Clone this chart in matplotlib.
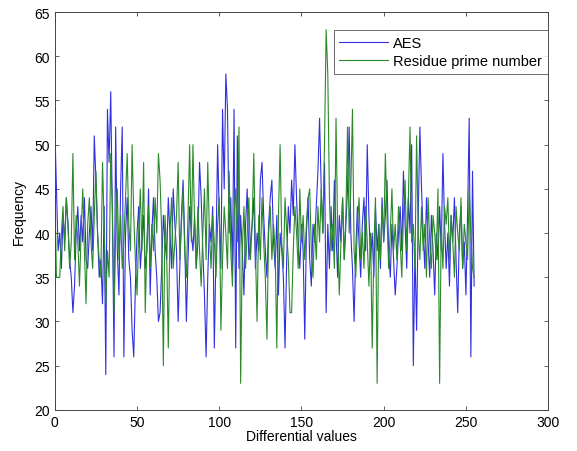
import numpy as np
import matplotlib.pyplot as plt

plt.rcParams['font.family'] = ['Liberation Sans', 'DejaVu Sans']

# frequency of each differential value
aes = [
    52, 45, 38, 40, 36, 42, 39, 44, 41, 37, 35, 31, 34, 40, 43, 38,
    42, 39, 44, 37, 36, 40, 43, 38, 51, 46, 40, 35, 37, 32, 43, 24,
    54, 48, 56, 42, 26, 52, 38, 33, 45, 52, 26, 40, 44, 37, 35, 29,
    26, 34, 40, 43, 36, 39, 42, 36, 38, 45, 33, 40, 44, 38, 35, 30,
    31, 36, 42, 39, 37, 44, 40, 36, 45, 41, 38, 30, 36, 42, 46, 39,
    30, 37, 43, 40, 38, 42, 36, 39, 48, 44, 38, 33, 26, 35, 41, 39,
    43, 27, 38, 50, 42, 36, 54, 45, 58, 54, 40, 44, 36, 54, 27, 51,
    36, 42, 38, 33, 41, 45, 37, 39, 41, 44, 36, 40, 38, 46, 48, 42,
    38, 35, 41, 44, 46, 39, 36, 42, 33, 40, 38, 35, 27, 37, 43, 40,
    46, 42, 50, 44, 39, 36, 41, 38, 28, 40, 44, 37, 34, 41, 39, 43,
    47, 53, 45, 40, 48, 31, 41, 36, 43, 38, 46, 40, 35, 42, 39, 44,
    37, 41, 45, 52, 40, 36, 30, 38, 43, 39, 35, 41, 44, 38, 50, 42,
    37, 40, 35, 43, 38, 41, 36, 44, 39, 42, 46, 38, 35, 41, 37, 33,
    36, 40, 43, 38, 47, 41, 36, 44, 40, 50, 25, 38, 29, 42, 52, 45,
    40, 36, 44, 39, 35, 42, 38, 33, 40, 37, 43, 38, 49, 41, 36, 40,
    34, 42, 39, 44, 37, 31, 40, 43, 36, 39, 33, 42, 53, 26, 47, 34,
]

residue_prime = [
    45, 35, 35, 35, 40, 43, 38, 44, 41, 36, 39, 49, 37, 42, 39, 34,
    40, 45, 38, 32, 41, 44, 39, 36, 42, 47, 40, 37, 35, 48, 41, 32,
    38, 35, 49, 43, 31, 40, 45, 37, 42, 36, 39, 44, 49, 41, 38, 50,
    42, 37, 33, 40, 45, 38, 48, 31, 39, 43, 36, 41, 38, 44, 40, 49,
    46, 40, 25, 42, 38, 27, 40, 44, 36, 39, 42, 48, 37, 41, 45, 38,
    35, 42, 50, 39, 50, 41, 36, 43, 38, 34, 40, 45, 37, 48, 40, 36,
    42, 39, 35, 41, 44, 29, 37, 43, 40, 36, 47, 38, 34, 42, 45, 39,
    52, 23, 38, 43, 36, 40, 44, 37, 41, 49, 38, 30, 42, 37, 44, 39,
    35, 28, 40, 43, 37, 41, 38, 27, 42, 50, 39, 36, 44, 40, 37, 31,
    31, 38, 43, 40, 36, 45, 39, 42, 37, 41, 44, 45, 38, 35, 41, 37,
    43, 39, 45, 40, 50, 63, 58, 44, 38, 41, 36, 53, 40, 33, 39, 44,
    37, 42, 52, 40, 45, 54, 38, 35, 41, 44, 37, 40, 36, 43, 39, 34,
    40, 27, 38, 44, 23, 41, 37, 43, 39, 49, 42, 36, 40, 45, 38, 41,
    37, 43, 39, 35, 42, 46, 38, 44, 52, 39, 41, 36, 51, 40, 37, 43,
    38, 41, 35, 44, 39, 36, 42, 40, 37, 45, 23, 41, 36, 43, 41, 44,
    37, 42, 39, 35, 43, 40, 38, 44, 36, 41, 39, 37, 45, 40, 36, 35,
]

x = np.arange(len(aes))

fig = plt.figure(figsize=(5.77, 4.52), dpi=100)
ax = fig.add_axes([0.095, 0.091, 0.855, 0.880])

ax.plot(x, aes, color="#3030e0", linewidth=0.8, label="AES")
ax.plot(x, residue_prime, color="#2a8a2a", linewidth=0.8, label="Residue prime number")

ax.set_xlim(0, 300)
ax.set_ylim(20, 65)
ax.set_xticks(range(0, 301, 50))
ax.set_yticks(range(20, 66, 5))
ax.tick_params(direction="in", top=True, right=True, labelsize=10, length=3,
               width=0.6, color="#444444")
for spine in ax.spines.values():
    spine.set_linewidth(0.7)
    spine.set_color("#444444")

ax.set_xlabel("Differential values", fontsize=10, labelpad=0)
ax.set_ylabel("Frequency", fontsize=10, labelpad=6)

leg = ax.legend(loc="upper right", bbox_to_anchor=(1.0, 0.955), borderaxespad=0,
                fontsize=10.5, fancybox=False, handlelength=3.3, borderpad=0.4,
                labelspacing=0.3, handletextpad=0.4)
leg.get_frame().set_edgecolor("#444444")
leg.get_frame().set_linewidth(0.7)

fig.savefig("out.png", dpi=100)
